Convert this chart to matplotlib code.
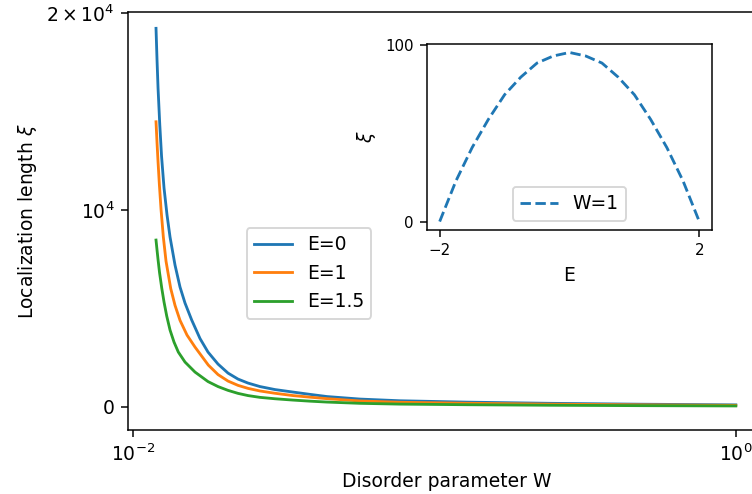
import matplotlib
matplotlib.use("Agg")
import matplotlib.pyplot as plt
from matplotlib.ticker import NullLocator

# localization length vs disorder W
W_e0 = [0.011917, 0.012010, 0.012103, 0.012261, 0.012431, 0.012670, 0.012964, 0.013265,
        0.013779, 0.014316, 0.014873, 0.015654, 0.016681, 0.017728, 0.019137, 0.020654,
        0.022295, 0.024066, 0.026371, 0.029582, 0.033939, 0.038646, 0.043995, 0.056624,
        0.076835, 0.12822, 0.24157, 0.48035, 1.0]
xi_e0 = [19240, 17626, 16203, 14373, 12746, 11119, 9746, 8628,
         7204, 6086, 5272, 4408, 3467, 2781, 2171, 1713,
         1408, 1205, 1027, 874, 747, 630, 519, 391,
         305, 235, 175, 130, 96]

W_e1 = [0.011917, 0.012010, 0.012103, 0.012223, 0.012383, 0.012602, 0.012865, 0.013336,
        0.013779, 0.014316, 0.015102, 0.016053, 0.017768, 0.019137, 0.020654, 0.022295,
        0.024066, 0.026371, 0.029582, 0.033939, 0.038646, 0.043995, 0.056624, 0.076835,
        0.12822, 0.24157, 0.48035, 1.0]
xi_e1 = [14489, 13422, 12456, 11332, 10036, 8633, 7397, 6009,
         5155, 4393, 3645, 3035, 2120, 1637, 1307, 1088,
         935, 803, 686, 569, 488, 412, 295, 229,
         178, 132, 98, 72]

W_e15 = [0.011917, 0.012010, 0.012103, 0.012242, 0.012450, 0.012670, 0.012934, 0.013265,
         0.013674, 0.014131, 0.014873, 0.016053, 0.017728, 0.019137, 0.020654, 0.022295,
         0.024066, 0.026371, 0.029582, 0.033939, 0.038646, 0.043995, 0.056624, 0.076835,
         0.12822, 0.24157, 0.48035, 1.0]
xi_e15 = [8475, 7967, 7484, 6823, 6035, 5323, 4611, 3899,
          3289, 2781, 2273, 1764, 1281, 1027, 834, 681,
          569, 478, 407, 340, 285, 239, 175, 135,
          104, 77, 57, 42]

# inset: xi(E) at W=1
E_inset = [-2, -1.75, -1.5, -1.25, -1, -0.75, -0.5, -0.25, 0,
           0.25, 0.5, 0.75, 1, 1.25, 1.5, 1.75, 2]
xi_inset = [0, 23, 42, 58, 72, 82, 90, 94, 96, 94, 90, 82, 72, 58, 42, 23, 0]

dpi = 135
fig = plt.figure(figsize=(752 / dpi, 494 / dpi), dpi=dpi)

ax = fig.add_axes([0.1702, 0.1296, 0.8468, 0.8461])
ax.plot(W_e0, xi_e0, label="E=0")
ax.plot(W_e1, xi_e1, label="E=1")
ax.plot(W_e15, xi_e15, label="E=1.5")
ax.set_xscale("log")
ax.set_xlim(0.00962, 1.248)
ax.set_ylim(-1180, 20070)
ax.set_xticks([0.01, 1])
ax.xaxis.set_minor_locator(NullLocator())
ax.set_yticks([0, 1e4, 2e4])
ax.set_yticklabels([r"$\mathdefault{0}$", r"$\mathdefault{10^{4}}$",
                    r"$\mathdefault{2\times10^{4}}$"])
ax.set_xlabel("Disorder parameter W")
ax.set_ylabel(r"Localization length $\xi$")
ax.legend(loc="upper left", bbox_to_anchor=(0.328, 0.5385),
          bbox_transform=fig.transFigure, borderaxespad=0)

ins = fig.add_axes([0.5674, 0.5344, 0.3798, 0.3765])
ins.plot(E_inset, xi_inset, "--", label="W=1")
ins.set_xticks([-2, 2])
ins.set_yticks([0, 100])
ins.tick_params(labelsize=8)
ins.set_xlabel("E")
ins.set_ylabel(r"$\xi$")
ins.legend(loc="lower center")

fig.savefig("out.png", dpi=dpi)
